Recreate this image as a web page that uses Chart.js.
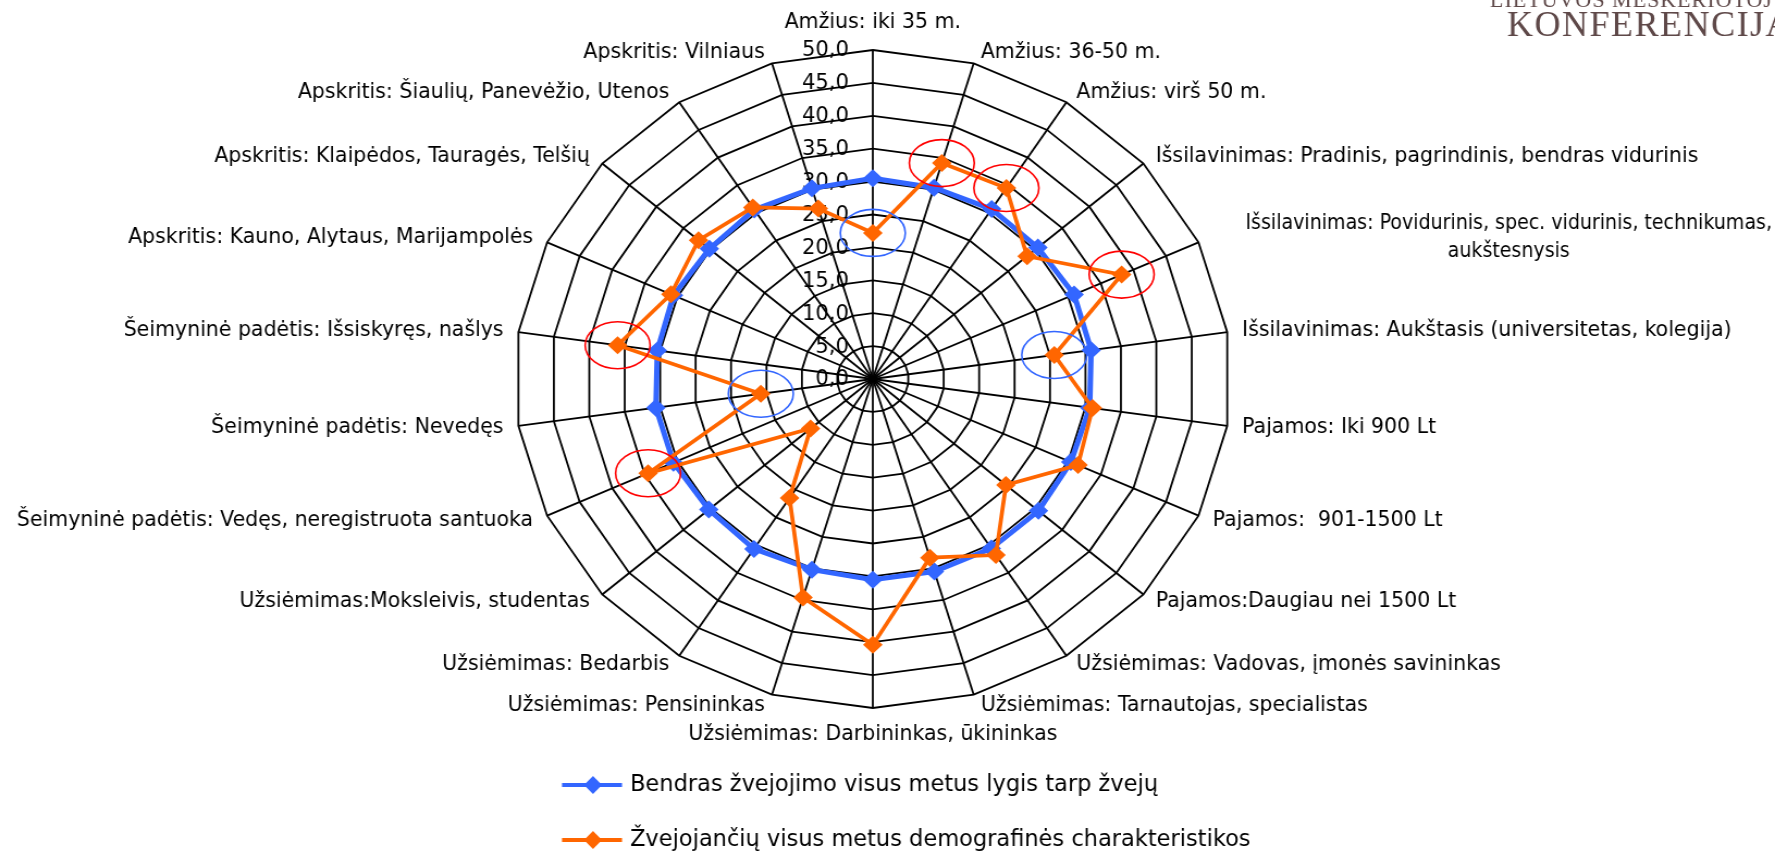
<!DOCTYPE html>
<html>
<head>
<meta charset="utf-8">
<script src="https://cdn.jsdelivr.net/npm/chart.js@4/dist/chart.umd.min.js"></script>
<style>
  html, body { margin: 0; padding: 0; background: #fff; overflow: hidden; }
  /* the original picture is wider than tall, so the canvas is stretched sideways */
  #wrap { width: 1631px; height: 853px; transform: scaleX(1.08829); transform-origin: 0 0; }
</style>
</head>
<body>
<div id="wrap"><canvas id="radarChart" width="1631" height="853"></canvas></div>
<script>
const categories = [
    'Amžius: iki 35 m.',
    'Amžius: 36-50 m.',
    'Amžius: virš 50 m.',
    'Išsilavinimas: Pradinis, pagrindinis, bendras vidurinis',
    ['Išsilavinimas: Povidurinis, spec. vidurinis, technikumas,', 'aukštesnysis'],
    'Išsilavinimas: Aukštasis (universitetas, kolegija)',
    'Pajamos: Iki 900 Lt',
    'Pajamos:  901-1500 Lt',
    'Pajamos:Daugiau nei 1500 Lt',
    'Užsiėmimas: Vadovas, įmonės savininkas',
    'Užsiėmimas: Tarnautojas, specialistas',
    'Užsiėmimas: Darbininkas, ūkininkas',
    'Užsiėmimas: Pensininkas',
    'Užsiėmimas: Bedarbis',
    'Užsiėmimas:Moksleivis, studentas',
    'Šeimyninė padėtis: Vedęs, neregistruota santuoka',
    'Šeimyninė padėtis: Nevedęs',
    'Šeimyninė padėtis: Išsiskyręs, našlys',
    'Apskritis: Kauno, Alytaus, Marijampolės',
    'Apskritis: Klaipėdos, Tauragės, Telšių',
    'Apskritis: Šiaulių, Panevėžio, Utenos',
    'Apskritis: Vilniaus'
];

const overallLevel = [30.5, 30.3, 30.7, 30.5, 30.9, 30.8, 30.6, 30.4, 30.6, 30.6, 30.5,
                      30.5, 30.2, 30.7, 30.3, 30.6, 30.6, 30.4, 30.6, 30.2, 30.6, 30.2];
const demographics = [22.2, 34.2, 34.5, 28.5, 38.2, 25.6, 31.0, 31.5, 24.6, 31.8, 28.3,
                      40.4, 34.6, 21.5, 11.5, 34.5, 15.8, 36.0, 31.0, 32.2, 31.0, 27.0];

const seriesNames = [
    'Bendras žvejojimo visus metus lygis tarp žvejų',
    'Žvejojančių visus metus demografinės charakteristikos'
];

const tickValues = [0, 5, 10, 15, 20, 25, 30, 35, 40, 45, 50];
const tickLabels = ['0,0', '5,0', '10,0', '15,0', '20,0', '25,0', '30,0', '35,0', '40,0', '45,0', '50,0'];

// points of the orange line that are circled in the picture
const circledHigh = [1, 2, 4, 15, 17]; // red
const circledLow = [0, 5, 16];         // blue

const BLUE = '#3366FF';
const ORANGE = '#FF6600';
const S = 1775 / 1631; // css stretch of the canvas, text is drawn un-stretched
const FONT = '"DejaVu Sans", Verdana, sans-serif';

const decorations = {
    id: 'decorations',
    beforeDatasetsDraw(chart) {
        const ctx = chart.ctx;
        const r = chart.scales.r;
        ctx.save();
        ctx.fillStyle = '#000';
        ctx.font = '21px ' + FONT;
        ctx.textAlign = 'right';
        ctx.textBaseline = 'middle';
        tickValues.forEach((v, k) => {
            const y = r.yCenter - r.getDistanceFromCenterForValue(v);
            ctx.save();
            ctx.translate(r.xCenter, y);
            ctx.scale(1 / S, 1);
            ctx.fillText(tickLabels[k], -24, 1);
            ctx.restore();
        });
        ctx.restore();
    },
    afterDatasetsDraw(chart) {
        const ctx = chart.ctx;
        const points = chart.getDatasetMeta(1).data;
        ctx.save();
        ctx.lineWidth = 1.6;
        const ring = (idx, color) => {
            const p = points[idx];
            ctx.strokeStyle = color;
            ctx.beginPath();
            ctx.ellipse(p.x, p.y, 32.5 / S, 23.5, 0, 0, Math.PI * 2);
            ctx.stroke();
        };
        circledHigh.forEach(i => ring(i, '#FF0000'));
        circledLow.forEach(i => ring(i, BLUE));
        ctx.restore();
    },
    afterDraw(chart) {
        const ctx = chart.ctx;
        const r = chart.scales.r;
        const n = categories.length;
        const pageW = chart.width * S;

        // category labels round the web
        ctx.save();
        ctx.scale(1 / S, 1); // from here on work in screen pixels
        ctx.fillStyle = '#000';
        ctx.font = '20.5px ' + FONT;
        ctx.textBaseline = 'middle';
        ctx.textAlign = 'center';
        categories.forEach((label, i) => {
            const p = r.getPointPosition(i, r.drawingArea);
            const a = i * 2 * Math.PI / n;
            const sin = Math.sin(a), cos = Math.cos(a);
            const lines = Array.isArray(label) ? label : [label];
            let blockW = Math.max(...lines.map(t => ctx.measureText(t).width));
            const px = p.x * S;
            let left, cy;
            if (Math.abs(sin) < 0.05) {
                left = px - blockW / 2;
                cy = p.y - cos * 27;
            } else {
                const gap = 4 + 11 * Math.abs(sin) + (lines.length > 1 ? 33 : 0);
                left = sin > 0 ? px + gap : px - gap - blockW;
                cy = p.y - cos * 11;
            }
            // squeeze a label that would run off the page
            let sx = 1;
            if (left + blockW > pageW - 3) {
                sx = (pageW - 3 - left) / blockW;
            }
            ctx.save();
            ctx.translate(left, 0);
            ctx.scale(sx, 1);
            lines.forEach((t, j) => {
                ctx.fillText(t, blockW / 2, cy + (j - (lines.length - 1) / 2) * 28);
            });
            ctx.restore();
        });

        // legend, stacked under the chart
        ctx.font = '22.5px ' + FONT;
        ctx.textAlign = 'left';
        [BLUE, ORANGE].forEach((color, k) => {
            const y = 785 + k * 55;
            ctx.strokeStyle = color;
            ctx.fillStyle = color;
            ctx.lineWidth = 4;
            ctx.beginPath();
            ctx.moveTo(562, y);
            ctx.lineTo(622, y);
            ctx.stroke();
            ctx.beginPath();
            ctx.moveTo(593, y - 9);
            ctx.lineTo(602, y);
            ctx.lineTo(593, y + 9);
            ctx.lineTo(584, y);
            ctx.closePath();
            ctx.fill();
            ctx.fillStyle = '#000';
            ctx.fillText(seriesNames[k], 630, y);
        });

        // conference logo, cut by the top right corner
        ctx.fillStyle = '#5E4848';
        ctx.textBaseline = 'alphabetic';
        ctx.font = '22px "Liberation Serif", serif';
        ctx.letterSpacing = '1px';
        ctx.fillText('LIETUVOS MĖSKERIOTOJŲ', 1490, 7);
        ctx.font = '36px "Liberation Serif", serif';
        ctx.letterSpacing = '1.5px';
        ctx.fillText('KONFERENCIJA', 1507, 36);
        ctx.restore();
    }
};

new Chart(document.getElementById('radarChart').getContext('2d'), {
    type: 'radar',
    data: {
        labels: categories,
        datasets: [{
            label: seriesNames[0],
            data: overallLevel,
            borderColor: BLUE,
            backgroundColor: BLUE,
            borderWidth: 5,
            pointStyle: 'rectRot',
            pointRadius: 9,
            pointBorderWidth: 0,
            fill: false,
            order: 2
        }, {
            label: seriesNames[1],
            data: demographics,
            borderColor: ORANGE,
            backgroundColor: ORANGE,
            borderWidth: 3.7,
            pointStyle: 'rectRot',
            pointRadius: 9,
            pointBorderWidth: 0,
            fill: false,
            order: 1
        }]
    },
    options: {
        responsive: false,
        animation: false,
        layout: { padding: { top: 50, bottom: 145, left: 0, right: 26 } },
        elements: { line: { tension: 0 } },
        scales: {
            r: {
                min: 0,
                max: 50,
                startAngle: 0,
                ticks: { stepSize: 5, display: false },
                grid: { color: '#000', lineWidth: 1.8 },
                angleLines: { color: '#000', lineWidth: 1.8 },
                pointLabels: { display: false }
            }
        },
        plugins: {
            legend: { display: false },
            tooltip: { enabled: false }
        }
    },
    plugins: [decorations]
});
</script>
</body>
</html>
